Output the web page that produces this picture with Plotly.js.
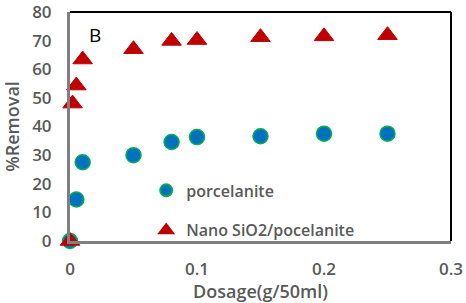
<!DOCTYPE html>
<html>
<head>
<meta charset="utf-8">
<script src="https://cdn.plot.ly/plotly-3.0.1.min.js"></script>
<style>html,body{margin:0;padding:0;background:#fff}#chart{width:466px;height:303px}</style>
</head>
<body>
<div id="chart"></div>
<script>
var seriesNames = ['porcelanite', 'Nano SiO2/pocelanite'];
var porcX = [0, 0.005, 0.01, 0.05, 0.08, 0.1, 0.15, 0.2, 0.25];
var porcY = [0, 14.5, 27.5, 30, 34.6, 36.3, 36.6, 37.5, 37.5];
var nanoX = [0, 0.002, 0.005, 0.01, 0.05, 0.08, 0.1, 0.15, 0.2, 0.25];
var nanoY = [0, 48, 54.3, 63.4, 67, 69.9, 70.2, 71.2, 71.5, 71.9];
var xTicks = [0, 0.1, 0.2, 0.3];
var yTicks = [0, 10, 20, 30, 40, 50, 60, 70, 80];
var panelLabel = 'B';
var xTitle = 'Dosage(g/50ml)';
var yTitle = '%Removal';

var fontFam = '"Open Sans", Lato, sans-serif';
var traces = [
  {x: porcX, y: porcY, name: seriesNames[0], mode: 'markers', type: 'scatter', legendgroup: 'a', cliponaxis: false,
   marker: {symbol: 'circle', size: 15, color: '#0070C0', line: {color: '#00B050', width: 1.5}}},
  {x: nanoX, y: nanoY, name: seriesNames[1], mode: 'markers', type: 'scatter', legendgroup: 'b', cliponaxis: false,
   marker: {symbol: 'triangle-up', size: 17, color: '#C00000', line: {color: '#C00000', width: 1}}}
];
var layout = {
  width: 466, height: 303,
  margin: {l: 70, r: 15, t: 12, b: 62},
  paper_bgcolor: '#fff', plot_bgcolor: '#fff',
  font: {family: fontFam, color: '#595959', size: 16},
  showlegend: true,
  legend: {x: 0.2, y: 0.295, xanchor: 'left', yanchor: 'top', bgcolor: 'rgba(0,0,0,0)',
    font: {family: fontFam, size: 16, color: '#595959', weight: 600},
    traceorder: 'grouped', tracegroupgap: 16, itemwidth: 30, itemsizing: 'constant'},
  xaxis: {range: [0, 0.3], tickvals: xTicks, ticktext: xTicks.map(String), showgrid: false, zeroline: false,
    showline: true, linecolor: '#7f7f7f', linewidth: 3, ticks: '', ticklabelstandoff: 11,
    ticklabeloverflow: 'allow',
    tickfont: {family: fontFam, size: 17, color: '#595959', weight: 600},
    title: {text: xTitle, font: {family: fontFam, size: 18, color: '#595959', weight: 600}, standoff: 0}},
  yaxis: {range: [0, 80], tickvals: yTicks, showgrid: false, zeroline: false,
    showline: true, linecolor: '#7f7f7f', linewidth: 3, ticks: '', ticklabelstandoff: 12,
    ticklabeloverflow: 'allow',
    tickfont: {family: fontFam, size: 17, color: '#595959', weight: 600},
    title: {text: yTitle, font: {family: fontFam, size: 18, color: '#595959', weight: 600}, standoff: 11}},
  shapes: [
    {type: 'line', xref: 'paper', yref: 'paper', x0: 0, x1: 1, y0: 1, y1: 1, line: {color: '#000', width: 2}},
    {type: 'line', xref: 'paper', yref: 'paper', x0: 1, x1: 1, y0: 0, y1: 1, line: {color: '#000', width: 2}}
  ],
  annotations: [
    {text: panelLabel, x: 0.02, y: 72, xref: 'x', yref: 'y', showarrow: false,
     font: {family: fontFam, size: 19, color: '#000'}}
  ]
};
Plotly.newPlot('chart', traces, layout, {displayModeBar: false, staticPlot: true});
</script>
</body>
</html>
